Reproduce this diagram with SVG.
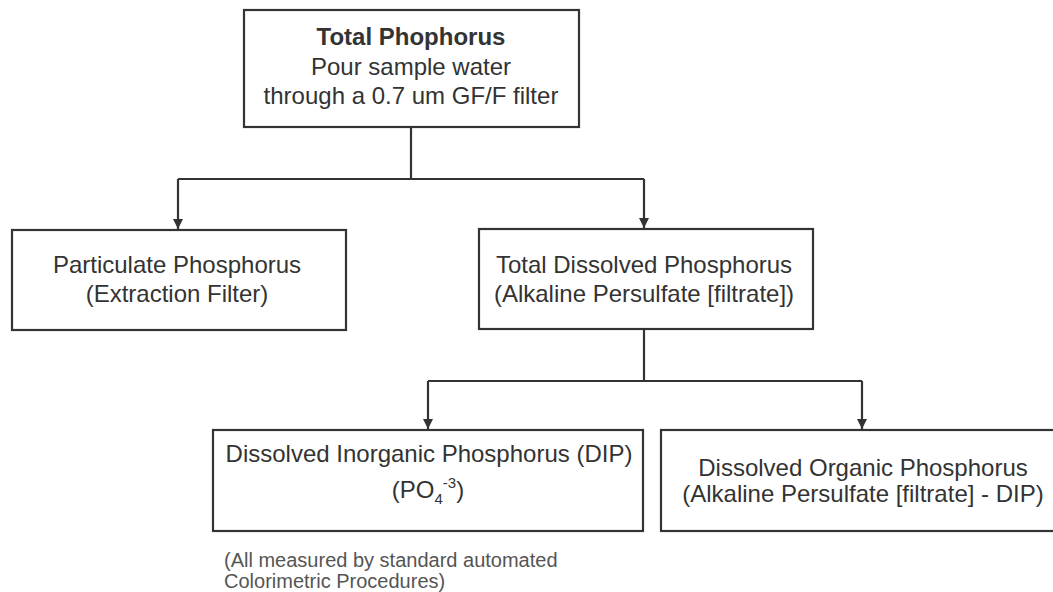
<svg xmlns="http://www.w3.org/2000/svg" width="1053" height="592" viewBox="0 0 1053 592">
<style>
.box{fill:#fff;stroke:#333;stroke-width:2.2}
.t{font-family:"Liberation Sans",Arial,sans-serif;font-size:24px;fill:#333;text-anchor:middle}
.b{font-weight:bold}
.note{font-family:"Liberation Sans",Arial,sans-serif;font-size:20px;fill:#555}
.c{fill:none;stroke:#333;stroke-width:2.2}
</style>
<defs>
<marker id="arr" markerWidth="10" markerHeight="12" refX="10" refY="5" orient="auto" markerUnits="userSpaceOnUse" viewBox="0 0 10 10">
<path d="M0,0 L10,5 L0,10 Z" fill="#333"/>
</marker>
</defs>
<rect width="1053" height="592" fill="#fff"/>
<g id="connectors">
<path class="c" d="M411,127 V179"/>
<path class="c" d="M178,179 H644"/>
<path class="c" d="M178,179 V229" marker-end="url(#arr)"/>
<path class="c" d="M644,179 V228" marker-end="url(#arr)"/>
<path class="c" d="M644,329 V381"/>
<path class="c" d="M428,381 H862"/>
<path class="c" d="M428,381 V429" marker-end="url(#arr)"/>
<path class="c" d="M862,381 V429" marker-end="url(#arr)"/>
</g>
<g id="total">
<rect class="box" x="244" y="10" width="335" height="117"/>
<text class="t b" x="411" y="45">Total Phophorus</text>
<text class="t" x="411" y="75">Pour sample water</text>
<text class="t" x="411" y="104">through a 0.7 um GF/F filter</text>
</g>
<g id="particulate">
<rect class="box" x="12" y="230" width="334" height="100"/>
<text class="t" x="177" y="273">Particulate Phosphorus</text>
<text class="t" x="177" y="302">(Extraction Filter)</text>
</g>
<g id="tdp">
<rect class="box" x="479" y="229" width="334" height="100"/>
<text class="t" x="644" y="273">Total Dissolved Phosphorus</text>
<text class="t" x="644" y="302">(Alkaline Persulfate [filtrate])</text>
</g>
<g id="dip">
<rect class="box" x="213" y="430" width="430" height="101"/>
<text class="t" x="429" y="462">Dissolved Inorganic Phosphorus (DIP)</text>
<text class="t" x="428" y="498">(PO<tspan font-size="15" dy="6">4</tspan><tspan font-size="15" dy="-16">-3</tspan><tspan dy="10">)</tspan></text>
</g>
<g id="dop">
<rect class="box" x="661" y="430" width="420" height="101"/>
<text class="t" x="863" y="476">Dissolved Organic Phosphorus</text>
<text class="t" x="863" y="502">(Alkaline Persulfate [filtrate] - DIP)</text>
</g>
<g id="note">
<text class="note" x="224" y="567">(All measured by standard automated</text>
<text class="note" x="224" y="588">Colorimetric Procedures)</text>
</g>
</svg>
